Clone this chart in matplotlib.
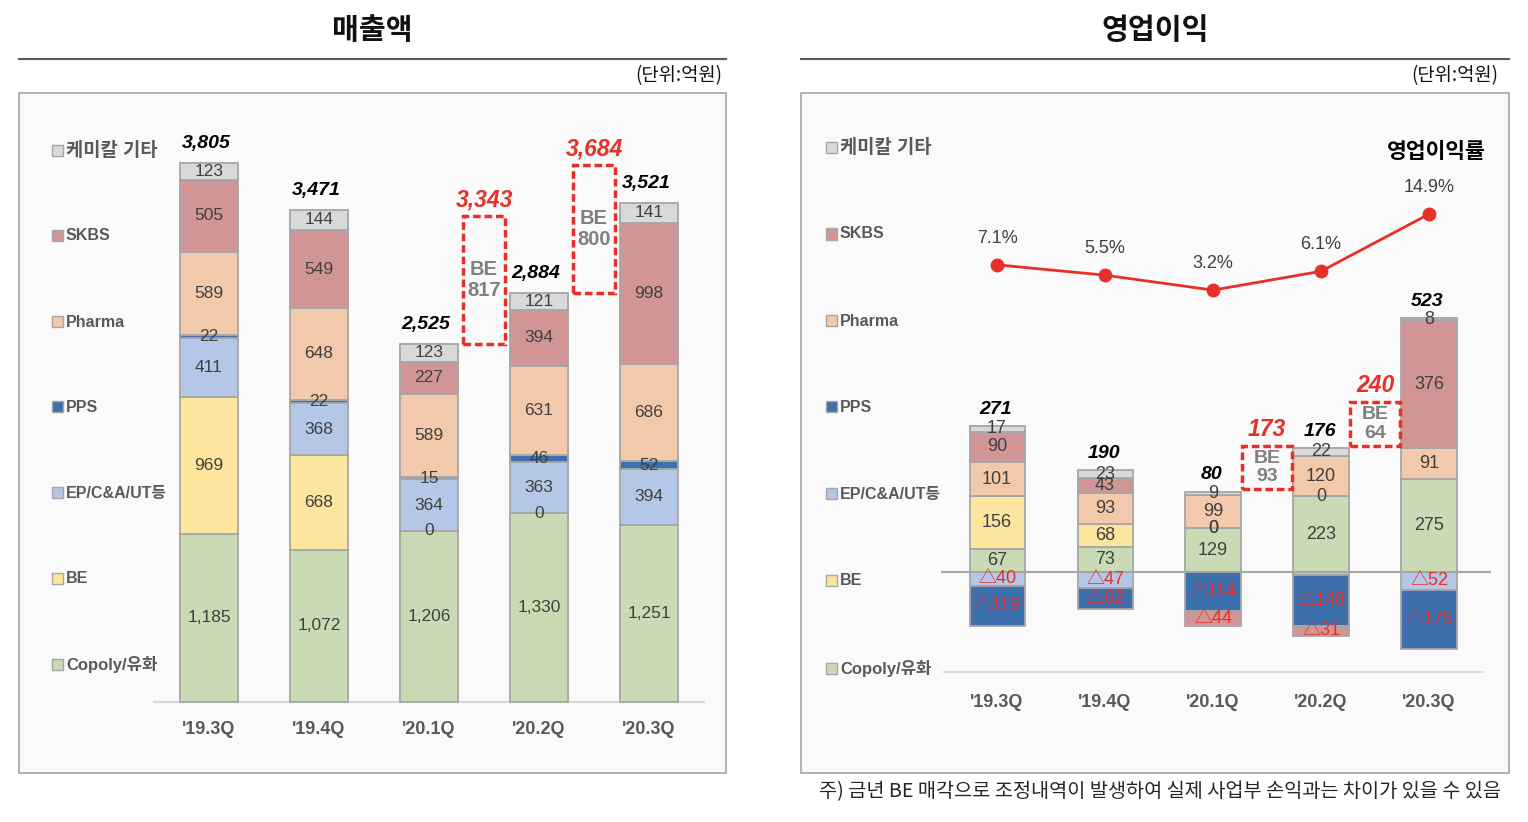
import numpy as np
import matplotlib
matplotlib.use('Agg')
import matplotlib.pyplot as plt
from matplotlib.patches import Rectangle
from matplotlib.lines import Line2D

plt.rcParams['font.family'] = ['Liberation Sans', 'Noto Sans CJK KR', 'DejaVu Sans']

# ---------------- data ----------------
quarters = ["'19.3Q", "'19.4Q", "'20.1Q", "'20.2Q", "'20.3Q"]
series_names = ['Copoly/유화', 'BE', 'EP/C&A/UT등', 'PPS', 'Pharma', 'SKBS', '케미칼 기타']

# 매출액 (sales)
sales_copoly = [1185, 1072, 1206, 1330, 1251]
sales_be = [969, 668, 0, 0, np.nan]
sales_ep = [411, 368, 364, 363, 394]
sales_pps = [22, 22, 15, 46, 52]
sales_pharma = [589, 648, 589, 631, 686]
sales_skbs = [505, 549, 227, 394, 998]
sales_etc = [123, 144, 123, 121, 141]
sales_total = [3805, 3471, 2525, 2884, 3521]
sales_be_adj = [817, 800]
sales_adj_total = [3343, 3684]

# 영업이익 (operating profit)
op_copoly = [67, 73, 129, 223, 275]
op_be = [156, 68, 0, 0, np.nan]
op_ep = [-40, -47, 0, -10, -52]
op_pps = [-119, -62, -114, -148, -175]
op_pharma = [101, 93, 99, 120, 91]
op_skbs = [90, 43, -44, -31, 376]
op_etc = [17, 23, 9, 22, 8]
op_total = [271, 190, 80, 176, 523]
op_margin = [7.1, 5.5, 3.2, 6.1, 14.9]
op_be_adj = [93, 64]
op_adj_total = [173, 240]

adj_after_quarter = [2, 3]   # BE adjustment boxes follow '20.1Q and '20.2Q

colors = ['#c9dbb4', '#fce59c', '#b4c7e6', '#3e70ae', '#f2c9aa', '#d19595', '#d9d9d9']
legend_sizes = [12, 11.5, 11.5, 11.5, 11.5, 11.5, 13.5]
EDGE = '#a6a6a6'
TXT = '#404040'
RED = '#e8302a'

W, H = 1528, 822
fig = plt.figure(figsize=(W / 100, H / 100), dpi=100)


def fx(x):
    return x / W


def fy(y):
    return 1 - y / H


def add_axes_px(x0, y0, x1, y1):
    return fig.add_axes([x0 / W, 1 - y1 / H, (x1 - x0) / W, (y1 - y0) / H])


# panels, header lines, titles
for (x0, x1, title, tx, unit_x) in [(19, 726, '매출액', 372, 722), (801, 1509, '영업이익', 1155, 1498)]:
    fig.patches.append(Rectangle((fx(x0), fy(773)), (x1 - x0) / W, (773 - 93) / H,
                                 transform=fig.transFigure, facecolor='#fafafa',
                                 edgecolor=EDGE, lw=1.2, zorder=-5))
    fig.add_artist(Line2D([fx(x0), fx(x1)], [fy(59), fy(59)], color='#595959', lw=1.5))
    fig.text(fx(tx), fy(30), title, ha='center', va='center', fontsize=21,
             fontweight='bold', family=['Noto Sans CJK KR'], color='#111111')
    fig.text(fx(unit_x), fy(76), '(단위:억원)', ha='right', va='center', fontsize=13.5,
             color='#111111', family=['Noto Sans CJK KR'])

# legends (drawn top to bottom in reverse series order)
legend_order = list(range(len(series_names)))[::-1]
for (lx, ys) in [(52, [151, 236, 322, 407, 493, 578, 664]), (826, [148, 234, 321, 407, 494, 580, 668])]:
    for k, y in zip(legend_order, ys):
        fig.patches.append(Rectangle((fx(lx), fy(y + 5.5)), 11 / W, 11 / H, transform=fig.transFigure,
                                     facecolor=colors[k], edgecolor=EDGE, lw=1.0, zorder=2))
        fig.text(fx(lx + 14), fy(y), series_names[k], ha='left', va='center',
                 fontsize=legend_sizes[k], fontweight='bold', color='#595959')

fig.text(fx(1160), fy(792), '주) 금년 BE 매각으로 조정내역이 발생하여 실제 사업부 손익과는 차이가 있을 수 있음',
         ha='center', va='center', fontsize=14.2, color='#262626', family=['Noto Sans CJK KR', 'DejaVu Sans'])


def draw_stack(ax, series, width, fmt, fsize, skip_small_neg=False):
    n = len(quarters)
    x = np.arange(n)
    pos = np.zeros(n)
    neg = np.zeros(n)
    for vals, col in zip(series, colors):
        v = np.array(vals, dtype=float)
        mask = ~np.isnan(v)
        vv = np.where(mask, v, 0.0)
        bottoms = np.where(vv >= 0, pos, neg)
        ax.bar(x[mask], vv[mask], bottom=bottoms[mask], width=width, color=col,
               edgecolor=EDGE, linewidth=1.3, zorder=2)
        for i in range(n):
            if not mask[i]:
                continue
            val = vv[i]
            if skip_small_neg and val < 0 and abs(val) < 20:
                continue
            if val < 0:
                ax.text(i, bottoms[i] + val / 2, '△' + fmt(-val), ha='center', va='center',
                        fontsize=fsize, color=RED, zorder=5)
            else:
                ax.text(i, bottoms[i] + val / 2, fmt(val), ha='center', va='center',
                        fontsize=fsize, color=TXT, zorder=5)
        pos = np.where(vv >= 0, pos + vv, pos)
        neg = np.where(vv < 0, neg + vv, neg)
    return pos, neg


def style_axes(ax, pad):
    for s in ax.spines.values():
        s.set_visible(False)
    ax.set_yticks([])
    ax.set_xticks(range(len(quarters)))
    ax.set_xticklabels(quarters, fontsize=13, fontweight='bold', color='#595959')
    ax.tick_params(axis='x', length=0, pad=pad)
    ax.patch.set_alpha(0)


# ---------------- left: sales ----------------
axL = add_axes_px(153, 100, 705, 710)
axL.set_xlim(-0.509, 4.509)
axL.set_ylim(-56.4, 4245)
style_axes(axL, 8)
axL.hlines(0, -0.509, 4.509, color='#d9d9d9', lw=1.5, zorder=1)
sales_series = [sales_copoly, sales_be, sales_ep, sales_pps, sales_pharma, sales_skbs, sales_etc]
posL, _ = draw_stack(axL, sales_series, 0.52, lambda v: f'{v:,.0f}', 12.5)
for i, t in enumerate(sales_total):
    axL.annotate(f'{t:,}', (i, posL[i]), xytext=(-2, 14), textcoords='offset points',
                 ha='center', va='center', fontsize=14, fontweight='bold', fontstyle='italic',
                 color='black')
box_h_L = 900
for k, i in enumerate(adj_after_quarter):
    b = posL[i]
    axL.add_patch(Rectangle((i + 0.5 - 0.19, b), 0.38, box_h_L, fill=False, edgecolor=RED,
                            lw=2.5, ls=(0, (2.2, 1.1)), zorder=4))
    axL.text(i + 0.5, b + box_h_L / 2, f'BE\n{sales_be_adj[k]}', ha='center', va='center',
             fontsize=14.5, fontweight='bold', color='#808080', linespacing=1.1)
    axL.annotate(f'{sales_adj_total[k]:,}', (i + 0.5, b + box_h_L), xytext=(0, 12),
                 textcoords='offset points', ha='center', va='center', fontsize=16.5,
                 fontweight='bold', fontstyle='italic', color=RED)

# ---------------- right: operating profit ----------------
axR = add_axes_px(941, 100, 1491, 680)
axR.set_xlim(-0.519, 4.574)
axR.set_ylim(-318.6, 1392.3)
style_axes(axR, 10)
op_series = [op_copoly, op_be, op_ep, op_pps, op_pharma, op_skbs, op_etc]
posR, negR = draw_stack(axR, op_series, 0.51, lambda v: f'{v:,.0f}', 13, skip_small_neg=True)
axR.axhline(0, color=EDGE, lw=1.5, zorder=3)
axR.hlines(-295, -0.5, 4.5, color='#d9d9d9', lw=1.5, zorder=1)
for i, t in enumerate(op_total):
    axR.annotate(f'{t:,}', (i, posR[i]), xytext=(-1, 12), textcoords='offset points',
                 ha='center', va='center', fontsize=14, fontweight='bold', fontstyle='italic',
                 color='black')
box_h_R = 127
for k, i in enumerate(adj_after_quarter):
    b = posR[i] + 8
    axR.add_patch(Rectangle((i + 0.5 - 0.235, b), 0.47, box_h_R, fill=False, edgecolor=RED,
                            lw=2.5, ls=(0, (2.2, 1.1)), zorder=4))
    axR.text(i + 0.5, b + box_h_R / 2, f'BE\n{op_be_adj[k]}', ha='center', va='center',
             fontsize=14, fontweight='bold', color='#808080', linespacing=1.1)
    axR.annotate(f'{op_adj_total[k]:,}', (i + 0.5, b + box_h_R), xytext=(0, 12),
                 textcoords='offset points', ha='center', va='center', fontsize=16.5,
                 fontweight='bold', fontstyle='italic', color=RED)

ax2 = axR.twinx()
ax2.set_ylim(-56.8, 32.46)
for s in ax2.spines.values():
    s.set_visible(False)
ax2.set_yticks([])
ax2.patch.set_alpha(0)
ax2.plot(range(len(op_margin)), op_margin, color=RED, lw=2, marker='o', ms=9, zorder=5)
for i, m in enumerate(op_margin):
    ax2.annotate(f'{m}%', (i, m), xytext=(0, 19), textcoords='offset points', ha='center',
                 va='center', fontsize=13, color=TXT)

fig.text(fx(1436), fy(152), '영업이익률', ha='center', va='center', fontsize=15.5,
         fontweight='bold', fontstyle='italic', color='black', family=['Noto Sans CJK KR'])

fig.savefig('out.png', dpi=100)
